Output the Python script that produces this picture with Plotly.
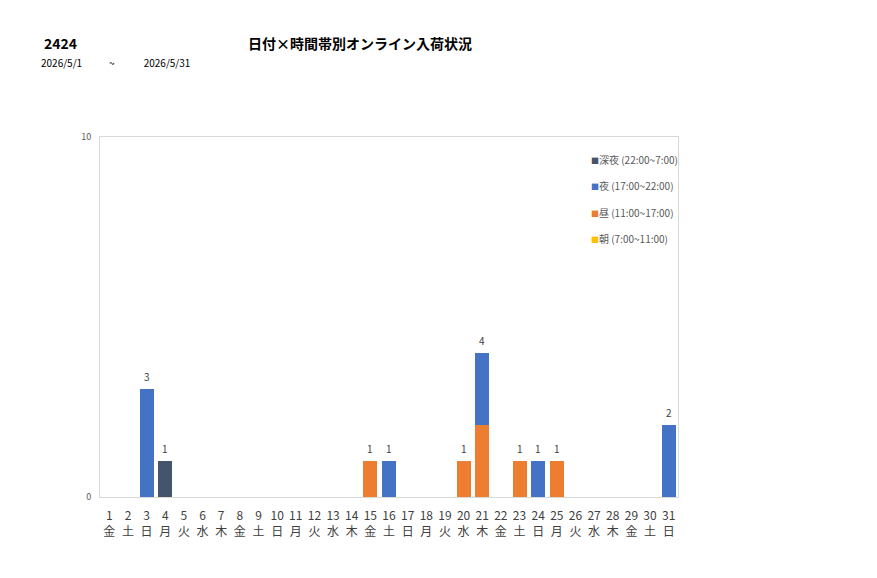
import plotly.graph_objects as go

days = list(range(1, 32))
weekdays = (["金", "土", "日", "月", "火", "水", "木"] * 5)[:31]
tick_labels = [f"{d}<br>{w}" for d, w in zip(days, weekdays)]

asa = [0] * 31            # 朝 (7:00~11:00)
hiru = [0] * 31           # 昼 (11:00~17:00)
yoru = [0] * 31           # 夜 (17:00~22:00)
shinya = [0] * 31         # 深夜 (22:00~7:00)
for d, v in {15: 1, 20: 1, 21: 2, 23: 1, 25: 1}.items():
    hiru[d - 1] = v
for d, v in {3: 3, 16: 1, 21: 2, 24: 1, 31: 2}.items():
    yoru[d - 1] = v
for d, v in {4: 1}.items():
    shinya[d - 1] = v

series = [
    ("朝 (7:00~11:00)", asa, "#FFC000"),
    ("昼 (11:00~17:00)", hiru, "#ED7D31"),
    ("夜 (17:00~22:00)", yoru, "#4472C4"),
    ("深夜 (22:00~7:00)", shinya, "#44546A"),
]

FONT = "Noto Sans CJK JP"
fig = go.Figure()
for name, vals, color in series:
    fig.add_trace(go.Bar(x=days, y=vals, name=name, marker_color=color,
                         marker_line_width=0, showlegend=False))

totals = [a + b + c + d for a, b, c, d in zip(asa, hiru, yoru, shinya)]
for d, t in zip(days, totals):
    if t > 0:
        fig.add_annotation(x=d, y=t, text=str(t), showarrow=False, yshift=13,
                           font=dict(size=10, color="#404040", family=FONT))

# legend (reversed order, small square markers)
for k, (name, vals, color) in enumerate(reversed(series)):
    fig.add_annotation(xref="paper", yref="paper",
                       x=(589 - 100) / 578, y=(497 - (159 + 26.6 * k)) / 360,
                       xanchor="left", yanchor="middle", showarrow=False,
                       text=f"<span style='color:{color};font-size:8px'>■</span>{name}",
                       font=dict(size=10, color="#595959", family=FONT))

fig.add_annotation(xref="paper", yref="paper", x=(246 - 100) / 578, y=(497 - 43) / 360,
                   xanchor="left", yanchor="middle", text="<b>日付×時間帯別オンライン入荷状況</b>",
                   showarrow=False, font=dict(size=14, color="#000", family=FONT))
fig.add_annotation(xref="paper", yref="paper", x=(42 - 100) / 578, y=(497 - 43) / 360,
                   xanchor="left", yanchor="middle", text="<b>2424</b>",
                   showarrow=False, font=dict(size=14, color="#000", family=FONT))
fig.add_annotation(xref="paper", yref="paper", x=(39 - 100) / 578, y=(497 - 62) / 360,
                   xanchor="left", yanchor="middle",
                   text="2026/5/1" + "&nbsp;" * 12 + "~" + "&nbsp;" * 13 + "2026/5/31",
                   showarrow=False, font=dict(size=10, color="#000", family=FONT))

fig.update_layout(
    width=877, height=578,
    margin=dict(l=100, r=199, t=137, b=81),
    barmode="stack", bargap=0.25,
    plot_bgcolor="white", paper_bgcolor="white",
    font=dict(family=FONT, color="#595959"),
    showlegend=False,
    xaxis=dict(tickmode="array", tickvals=days, ticktext=tick_labels,
               range=[0.5, 31.5], showline=True, mirror=True, linecolor="#d9d9d9",
               ticks="", ticklabelstandoff=8, tickfont=dict(size=12, color="#404040")),
    yaxis=dict(range=[0, 10], tickvals=[0, 10], showgrid=False, zeroline=False,
               showline=True, mirror=True, linecolor="#d9d9d9", ticks="",
               ticklabelstandoff=6, tickfont=dict(size=9, color="#595959")),
)
fig.write_html("out.html")
